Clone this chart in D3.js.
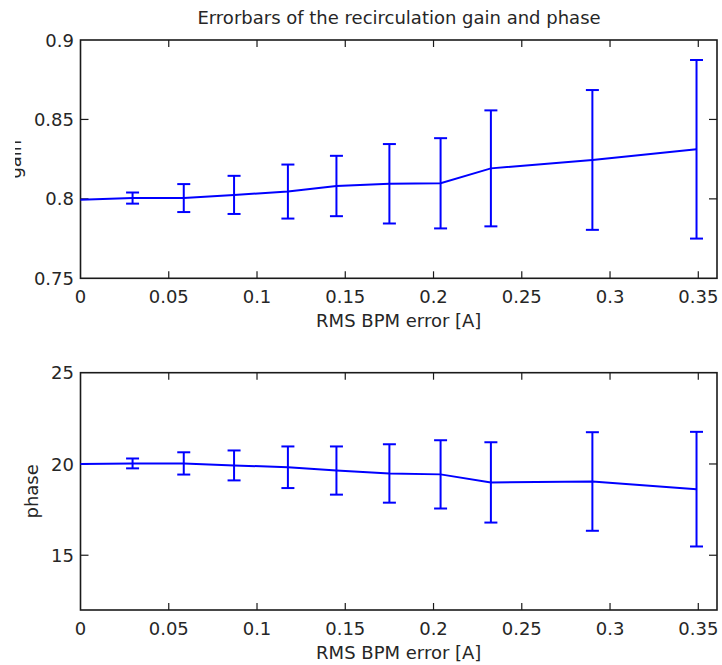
<!DOCTYPE html>
<html>
<head>
<meta charset="utf-8">
<script src="https://cdn.jsdelivr.net/npm/d3@7"></script>
<style>
  html, body { margin: 0; padding: 0; background: #fff; }
  text { font-family: "DejaVu Sans", sans-serif; fill: #262626; }
</style>
</head>
<body>
<svg id="chart" width="722" height="665"></svg>
<script>
// ---- data ----
const rmsError = [0, 0.0295, 0.0585, 0.087, 0.1175, 0.145, 0.175, 0.204, 0.2325, 0.29, 0.349];
const gain     = [0.7995, 0.8005, 0.8005, 0.8025, 0.8046, 0.8081, 0.8095, 0.8098, 0.8192, 0.8245, 0.8312];
const gainErr  = [0, 0.0035, 0.0088, 0.012, 0.017, 0.019, 0.025, 0.0284, 0.0365, 0.044, 0.0562];
const phase    = [20.0, 20.03, 20.03, 19.92, 19.82, 19.64, 19.48, 19.43, 18.99, 19.04, 18.62];
const phaseErr = [0, 0.27, 0.61, 0.82, 1.14, 1.32, 1.6, 1.87, 2.2, 2.7, 3.14];
const xTicks = [0, 0.05, 0.1, 0.15, 0.2, 0.25, 0.3, 0.35];
const xTickLabels = ["0", "0.05", "0.1", "0.15", "0.2", "0.25", "0.3", "0.35"];
const gainTicks = [0.75, 0.8, 0.85, 0.9];
const gainTickLabels = ["0.75", "0.8", "0.85", "0.9"];
const phaseTicks = [15, 20, 25];
const phaseTickLabels = ["15", "20", "25"];
const titleText = "Errorbars of the recirculation gain and phase";
const xLabel = "RMS BPM error [A]";

// ---- layout ----
const svg = d3.select("#chart");
svg.append("rect").attr("width", 722).attr("height", 665).attr("fill", "#fff");

const left = 80.5, right = 717;
const x = d3.scaleLinear().domain([0, 0.3606]).range([left, right]);

svg.append("defs").append("clipPath").attr("id", "gainClip")
  .append("rect").attr("x", 15).attr("y", 0).attr("width", 60).attr("height", 330);

function panel(cfg) {
  const { top, bottom, domain, values, errs, ticks, tickLabels, ylabel, ylabelX, clip } = cfg;
  const y = d3.scaleLinear().domain(domain).range([bottom, top]);
  const g = svg.append("g");

  // ticks (inward) on all four sides
  const xTickLen = 7, yTickLen = 8;
  g.selectAll(".xtb").data(xTicks.filter(t => t > 0)).enter().append("line")
    .attr("x1", d => x(d)).attr("x2", d => x(d))
    .attr("y1", bottom).attr("y2", bottom - xTickLen)
    .attr("stroke", "#1a1a1a").attr("stroke-width", 1.2);
  g.selectAll(".xtt").data(xTicks.filter(t => t > 0)).enter().append("line")
    .attr("x1", d => x(d)).attr("x2", d => x(d))
    .attr("y1", top).attr("y2", top + xTickLen)
    .attr("stroke", "#1a1a1a").attr("stroke-width", 1.2);
  const innerY = ticks.filter(t => t > domain[0] && t < domain[1]);
  g.selectAll(".ytl").data(innerY).enter().append("line")
    .attr("x1", left).attr("x2", left + yTickLen)
    .attr("y1", d => y(d)).attr("y2", d => y(d))
    .attr("stroke", "#1a1a1a").attr("stroke-width", 1.2);
  g.selectAll(".ytr").data(innerY).enter().append("line")
    .attr("x1", right).attr("x2", right - yTickLen)
    .attr("y1", d => y(d)).attr("y2", d => y(d))
    .attr("stroke", "#1a1a1a").attr("stroke-width", 1.2);

  // box
  g.append("rect").attr("x", left).attr("y", top)
    .attr("width", right - left).attr("height", bottom - top)
    .attr("fill", "none").attr("stroke", "#1a1a1a").attr("stroke-width", 1.6);

  // tick labels
  g.selectAll(".xl").data(xTicks).enter().append("text")
    .attr("x", (d) => x(d)).attr("y", bottom + 25)
    .attr("text-anchor", "middle").attr("font-size", 18)
    .text((d, i) => xTickLabels[i]);
  g.selectAll(".yl").data(ticks).enter().append("text")
    .attr("x", 74).attr("y", d => y(d) + 6.6)
    .attr("text-anchor", "end").attr("font-size", 18)
    .text((d, i) => tickLabels[i]);

  // x label
  g.append("text").attr("x", (left + right) / 2).attr("y", bottom + 49)
    .attr("text-anchor", "middle").attr("font-size", 18).text(xLabel);

  // y label (wrapped in a group so the clip is in page coordinates)
  const ylg = g.append("g");
  if (clip) ylg.attr("clip-path", "url(#gainClip)");
  ylg.append("text")
    .attr("transform", `translate(${ylabelX},${(top + bottom) / 2}) rotate(-90)`)
    .attr("text-anchor", "middle").attr("font-size", 18).text(ylabel);

  // data line
  const idx = d3.range(rmsError.length);
  g.append("path")
    .attr("d", d3.line().x(i => x(rmsError[i])).y(i => y(values[i]))(idx))
    .attr("fill", "none").attr("stroke", "#0000ff").attr("stroke-width", 2);

  // error bars
  const tee = 6.5;
  const eb = g.selectAll(".eb").data(idx.filter(i => errs[i] > 0)).enter().append("g");
  eb.append("line")
    .attr("x1", i => x(rmsError[i])).attr("x2", i => x(rmsError[i]))
    .attr("y1", i => y(values[i] - errs[i])).attr("y2", i => y(values[i] + errs[i]))
    .attr("stroke", "#0000ff").attr("stroke-width", 2);
  eb.append("line")
    .attr("x1", i => x(rmsError[i]) - tee).attr("x2", i => x(rmsError[i]) + tee)
    .attr("y1", i => y(values[i] - errs[i])).attr("y2", i => y(values[i] - errs[i]))
    .attr("stroke", "#0000ff").attr("stroke-width", 2);
  eb.append("line")
    .attr("x1", i => x(rmsError[i]) - tee).attr("x2", i => x(rmsError[i]) + tee)
    .attr("y1", i => y(values[i] + errs[i])).attr("y2", i => y(values[i] + errs[i]))
    .attr("stroke", "#0000ff").attr("stroke-width", 2);
}

panel({ top: 40, bottom: 278.3, domain: [0.75, 0.9], values: gain, errs: gainErr,
        ticks: gainTicks, tickLabels: gainTickLabels, ylabel: "gain", ylabelX: 20.5, clip: true });
panel({ top: 372.7, bottom: 610, domain: [12, 25], values: phase, errs: phaseErr,
        ticks: phaseTicks, tickLabels: phaseTickLabels, ylabel: "phase", ylabelX: 38, clip: false });

svg.append("text").attr("x", 399).attr("y", 23.5)
  .attr("text-anchor", "middle").attr("font-size", 18).text(titleText);
</script>
</body>
</html>
